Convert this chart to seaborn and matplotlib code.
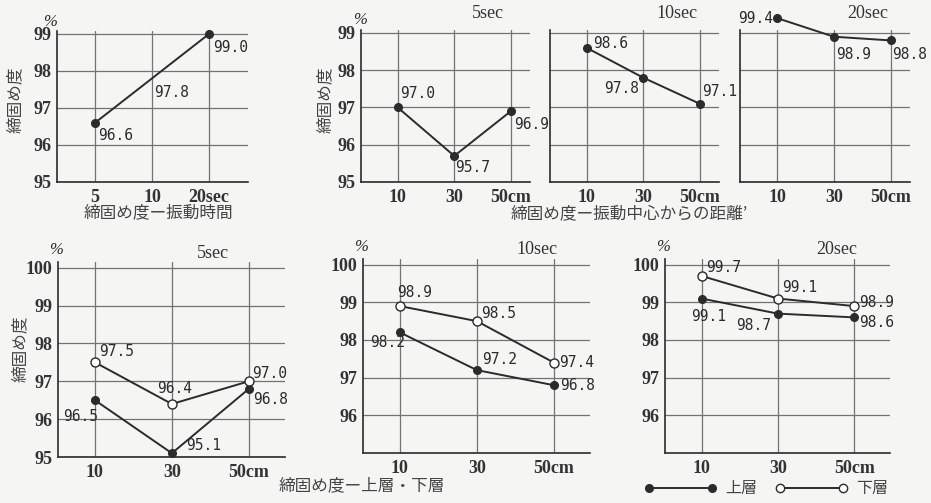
import matplotlib
matplotlib.use("Agg")
import matplotlib.pyplot as plt
from matplotlib.lines import Line2D
import seaborn as sns

# ---- data -------------------------------------------------------------
# compaction vs. vibration time
time_labels = ["5", "10", "20sec"]
time_values = [96.6, 97.8, 99.0]

# compaction vs. distance from the vibration centre
dist_labels = ["10", "30", "50cm"]
dist_titles = ["5sec", "10sec", "20sec"]
dist_5 = [97.0, 95.7, 96.9]
dist_10 = [98.6, 97.8, 97.1]
dist_20 = [99.4, 98.9, 98.8]

# compaction of upper / lower layer
layer_names = ["上層", "下層"]
upper_5 = [96.5, 95.1, 96.8]
lower_5 = [97.5, 96.4, 97.0]
upper_10 = [98.2, 97.2, 96.8]
lower_10 = [98.9, 98.5, 97.4]
upper_20 = [99.1, 98.7, 98.6]
lower_20 = [99.7, 99.1, 98.9]

ylabel_text = "締固め度"
xlabel_time = "締固め度ー振動時間"
xlabel_dist = "締固め度ー振動中心からの距離’"
xlabel_layer = "締固め度ー上層・下層"

# ---- style ------------------------------------------------------------
sns.set_style("white")
W, H = 931, 503
BG = "#f5f5f4"
INK = "#2b2b2b"
GRID = "#737373"
JP = ["Noto Sans CJK JP", "DejaVu Sans"]
NUM = "Liberation Serif"
VAL = "DejaVu Sans Mono"

plt.rcParams["font.family"] = JP

fig = plt.figure(figsize=(W / 100, H / 100), dpi=100, facecolor=BG)


def rect(x0, x1, ytop, ybot):
    return [x0 / W, 1 - ybot / H, (x1 - x0) / W, (ybot - ytop) / H]


def make_axes(r, xlim, ylim, yticks, xlabels, show_y=True):
    ax = fig.add_axes(r)
    ax.set_facecolor(BG)
    ax.set_xlim(*xlim)
    ax.set_ylim(*ylim)
    ax.set_xticks(range(3))
    ax.set_xticklabels(xlabels, fontfamily=NUM, fontsize=13,
                       fontweight="bold", color="#333333")
    ax.set_yticks(yticks)
    if show_y:
        ax.set_yticklabels([str(t) for t in yticks], fontfamily=NUM,
                           fontsize=13, fontweight="bold", color="#333333")
    else:
        ax.set_yticklabels([])
    ax.grid(True, color=GRID, lw=0.9)
    ax.set_axisbelow(True)
    for s in ("top", "right"):
        ax.spines[s].set_visible(False)
    for s in ("left", "bottom"):
        ax.spines[s].set_color(INK)
        ax.spines[s].set_linewidth(1.2)
    ax.tick_params(length=0, pad=4)
    ax.tick_params(axis="x", pad=5)
    return ax


def draw(ax, values, filled=True, markevery=None):
    kw = dict(ax=ax, x=list(range(len(values))), y=values, color=INK,
              lw=1.4, marker="o", markersize=5.5 if filled else 6.5,
              markeredgecolor=INK, markeredgewidth=1.0,
              markerfacecolor=INK if filled else "white",
              clip_on=False, legend=False, zorder=3)
    if markevery is not None:
        kw["markevery"] = markevery
    sns.lineplot(**kw)


def label(ax, values, offsets):
    for i, (v, (dx, dy, ha, va)) in enumerate(zip(values, offsets)):
        ax.annotate(f"{v:.1f}", xy=(i, v), xytext=(dx, dy),
                    textcoords="offset pixels", ha=ha, va=va,
                    fontfamily=VAL, fontsize=10.5, color=INK,
                    annotation_clip=False, zorder=4)


def percent(ax, dx, dy):
    ax.annotate("%", xy=(0, 1), xycoords="axes fraction", xytext=(dx, dy),
                textcoords="offset pixels", ha="center", va="center",
                fontfamily=NUM, fontstyle="italic", fontsize=12, color=INK,
                annotation_clip=False)


def ftext(x, y, s, **kw):
    fig.text(x / W, 1 - y / H, s, ha="center", va="center", **kw)


# ---- top row: vibration time -------------------------------------------
top_ylim = (95, 99.08)
top_ticks = [95, 96, 97, 98, 99]

ax = make_axes(rect(57, 248, 31, 182), (-0.667, 2.684), top_ylim,
               top_ticks, time_labels)
draw(ax, time_values, markevery=[0, 2])
label(ax, time_values, [(3, -5, "left", "top"),
                        (2, -7, "left", "top"),
                        (4, -6, "left", "top")])
percent(ax, -7, 9)

# ---- top row: distance from vibration centre ---------------------------
dist_sets = [dist_5, dist_10, dist_20]
dist_x = [(361, 530), (550, 719), (740, 910)]
dist_offsets = [
    [(2, 6, "left", "bottom"), (1, -4, "left", "top"), (3, -6, "left", "top")],
    [(6, 4, "left", "center"), (-4, -3, "right", "top"), (2, 5, "left", "bottom")],
    [(-4, 0, "right", "center"), (2, -10, "left", "top"), (1, -7, "left", "top")],
]
for k, (vals, (x0, x1), offs, ttl) in enumerate(
        zip(dist_sets, dist_x, dist_offsets, dist_titles)):
    ax = make_axes(rect(x0, x1, 30, 182), (-0.65, 2.34), top_ylim,
                   top_ticks, dist_labels, show_y=(k == 0))
    draw(ax, vals)
    label(ax, vals, offs)
    if k == 0:
        percent(ax, -1, 10)
    cx = x0 + 0.75 * (x1 - x0)
    ftext(cx, 13, ttl, fontfamily=NUM, fontsize=13, color="#333333")

# ---- bottom row: upper / lower layer -----------------------------------
layer_sets = [(upper_5, lower_5), (upper_10, lower_10), (upper_20, lower_20)]
layer_x = [(58, 285, 262, 457), (363, 590, 259, 453), (665, 890, 259, 453)]
title_cx = [213, 537, 837]
upper_offsets = [
    [(3, -9, "right", "top"), (14, 0, "left", "bottom"), (4, -3, "left", "top")],
    [(5, -3, "right", "top"), (5, 3, "left", "bottom"), (6, 0, "left", "center")],
    [(7, -10, "center", "top"), (-7, -4, "right", "top"), (5, -5, "left", "center")],
]
lower_offsets = [
    [(4, 3, "left", "bottom"), (3, 8, "center", "bottom"), (3, 0, "left", "bottom")],
    [(-3, 6, "left", "bottom"), (4, 0, "left", "bottom"), (5, 0, "left", "center")],
    [(5, 1, "left", "bottom"), (4, 4, "left", "bottom"), (5, 4, "left", "center")],
]
for k, ((up, lo), (x0, x1, yt, yb), uo, lof, ttl, tcx) in enumerate(
        zip(layer_sets, layer_x, upper_offsets, lower_offsets,
            dist_titles, title_cx)):
    ticks = [95, 96, 97, 98, 99, 100] if k == 0 else [96, 97, 98, 99, 100]
    ax = make_axes(rect(x0, x1, yt, yb), (-0.48, 2.47), (95, 100.15),
                   ticks, dist_labels)
    draw(ax, up, filled=True)
    draw(ax, lo, filled=False)
    label(ax, up, uo)
    label(ax, lo, lof)
    percent(ax, -2, 12)
    ftext(tcx, yt - 9, ttl, fontfamily=NUM, fontsize=13, color="#333333")

# ---- axis titles ---------------------------------------------------------
jp_kw = dict(fontfamily=JP, fontsize=12, color="#444444")
ftext(158, 213, xlabel_time, **jp_kw)
ftext(629, 214, xlabel_dist, **jp_kw)
ftext(362, 486, xlabel_layer, **jp_kw)
ftext(15, 100, ylabel_text, rotation=90, **jp_kw)
ftext(325, 100, ylabel_text, rotation=90, **jp_kw)
ftext(20, 349, ylabel_text, rotation=90, **jp_kw)

# ---- legend -------------------------------------------------------------
handles = [
    Line2D([], [], color=INK, lw=1.4, marker="o", markersize=5.5,
           markerfacecolor=INK, markeredgecolor=INK),
    Line2D([], [], color=INK, lw=1.4, marker="o", markersize=6,
           markerfacecolor="white", markeredgecolor=INK),
]
fig.legend(handles, layer_names, numpoints=2, ncol=2, frameon=False,
           loc="center", bbox_to_anchor=(766 / W, 1 - 489 / H),
           handlelength=4.6, handletextpad=0.5, columnspacing=1.1,
           prop={"family": JP, "size": 11.5}, labelcolor="#444444")

fig.savefig("out.png", dpi=100, facecolor=BG)
